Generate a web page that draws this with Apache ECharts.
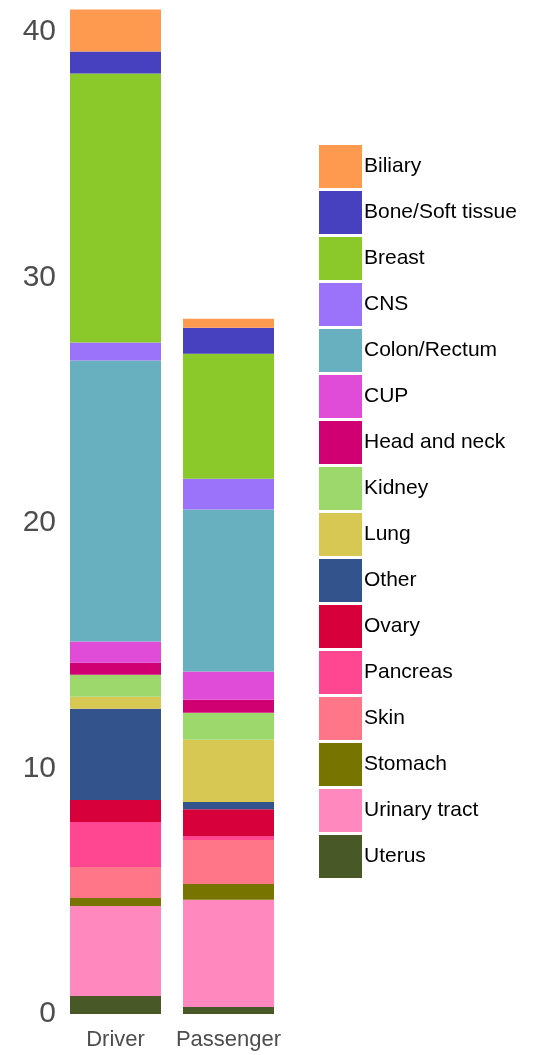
<!DOCTYPE html>
<html>
<head>
<meta charset="utf-8">
<script src="https://cdn.jsdelivr.net/npm/echarts@6/dist/echarts.min.js"></script>
<style>
html,body{margin:0;padding:0;background:#fff;}
#chart{width:534px;height:1055px;}
</style>
</head>
<body>
<div id="chart"></div>
<script>
const categories = ['Driver', 'Passenger'];
const cancerTypes = ['Biliary', 'Bone/Soft tissue', 'Breast', 'CNS', 'Colon/Rectum', 'CUP', 'Head and neck', 'Kidney', 'Lung', 'Other', 'Ovary', 'Pancreas', 'Skin', 'Stomach', 'Urinary tract', 'Uterus'];
const driverValues = [1.71, 0.90, 10.96, 0.73, 11.45, 0.86, 0.49, 0.90, 0.49, 3.71, 0.90, 1.83, 1.26, 0.33, 3.67, 0.73];
const passengerValues = [0.37, 1.05, 5.10, 1.25, 6.60, 1.15, 0.53, 1.10, 2.53, 0.30, 1.09, 0.16, 1.79, 0.65, 4.36, 0.29];
const colors = ['#FE9A4F', '#4740BF', '#8BC82A', '#9B72FA', '#68AFBF', '#E04CD8', '#D10072', '#9CD86C', '#D6C852', '#32538C', '#D8003B', '#FF4690', '#FF7689', '#777400', '#FF88BF', '#485826'];
const yTicks = [0, 10, 20, 30, 40];

const font = '"Liberation Sans", Arial, Helvetica, sans-serif';

// stack bottom-up: last type (Uterus) at bottom
const series = [];
for (let i = cancerTypes.length - 1; i >= 0; i--) {
  series.push({
    name: cancerTypes[i],
    type: 'bar',
    stack: 'total',
    barWidth: 91,
    itemStyle: { color: colors[i] },
    emphasis: { disabled: true },
    data: [driverValues[i], passengerValues[i]]
  });
}

const chart = echarts.init(document.getElementById('chart'), null, { renderer: 'canvas' });
chart.setOption({
  animation: false,
  backgroundColor: '#ffffff',
  grid: { left: 59, right: 249, top: 7.5, bottom: 41, containLabel: false },
  xAxis: {
    type: 'category',
    data: categories,
    axisLine: { show: false },
    axisTick: { show: false },
    axisLabel: { color: '#4D4D4D', fontSize: 22, fontFamily: font, margin: 15, interval: 0, hideOverlap: false }
  },
  yAxis: {
    type: 'value',
    min: 0,
    max: 41,
    interval: 10,
    axisLine: { show: false },
    axisTick: { show: false },
    splitLine: { show: false },
    axisLabel: {
      color: '#4D4D4D', fontSize: 30, fontFamily: font, margin: 3,
      formatter: function (v) { return yTicks.indexOf(v) >= 0 ? String(v) : ''; }
    }
  },
  legend: {
    orient: 'vertical',
    left: 319,
    top: 145,
    padding: 0,
    itemWidth: 43,
    itemHeight: 43,
    itemGap: 3,
    icon: 'rect',
    selectedMode: false,
    data: cancerTypes,
    textStyle: { color: '#000', fontSize: 21, fontFamily: font, padding: [6, 0, 0, -3] }
  },
  color: colors,
  series: series
});
</script>
</body>
</html>
